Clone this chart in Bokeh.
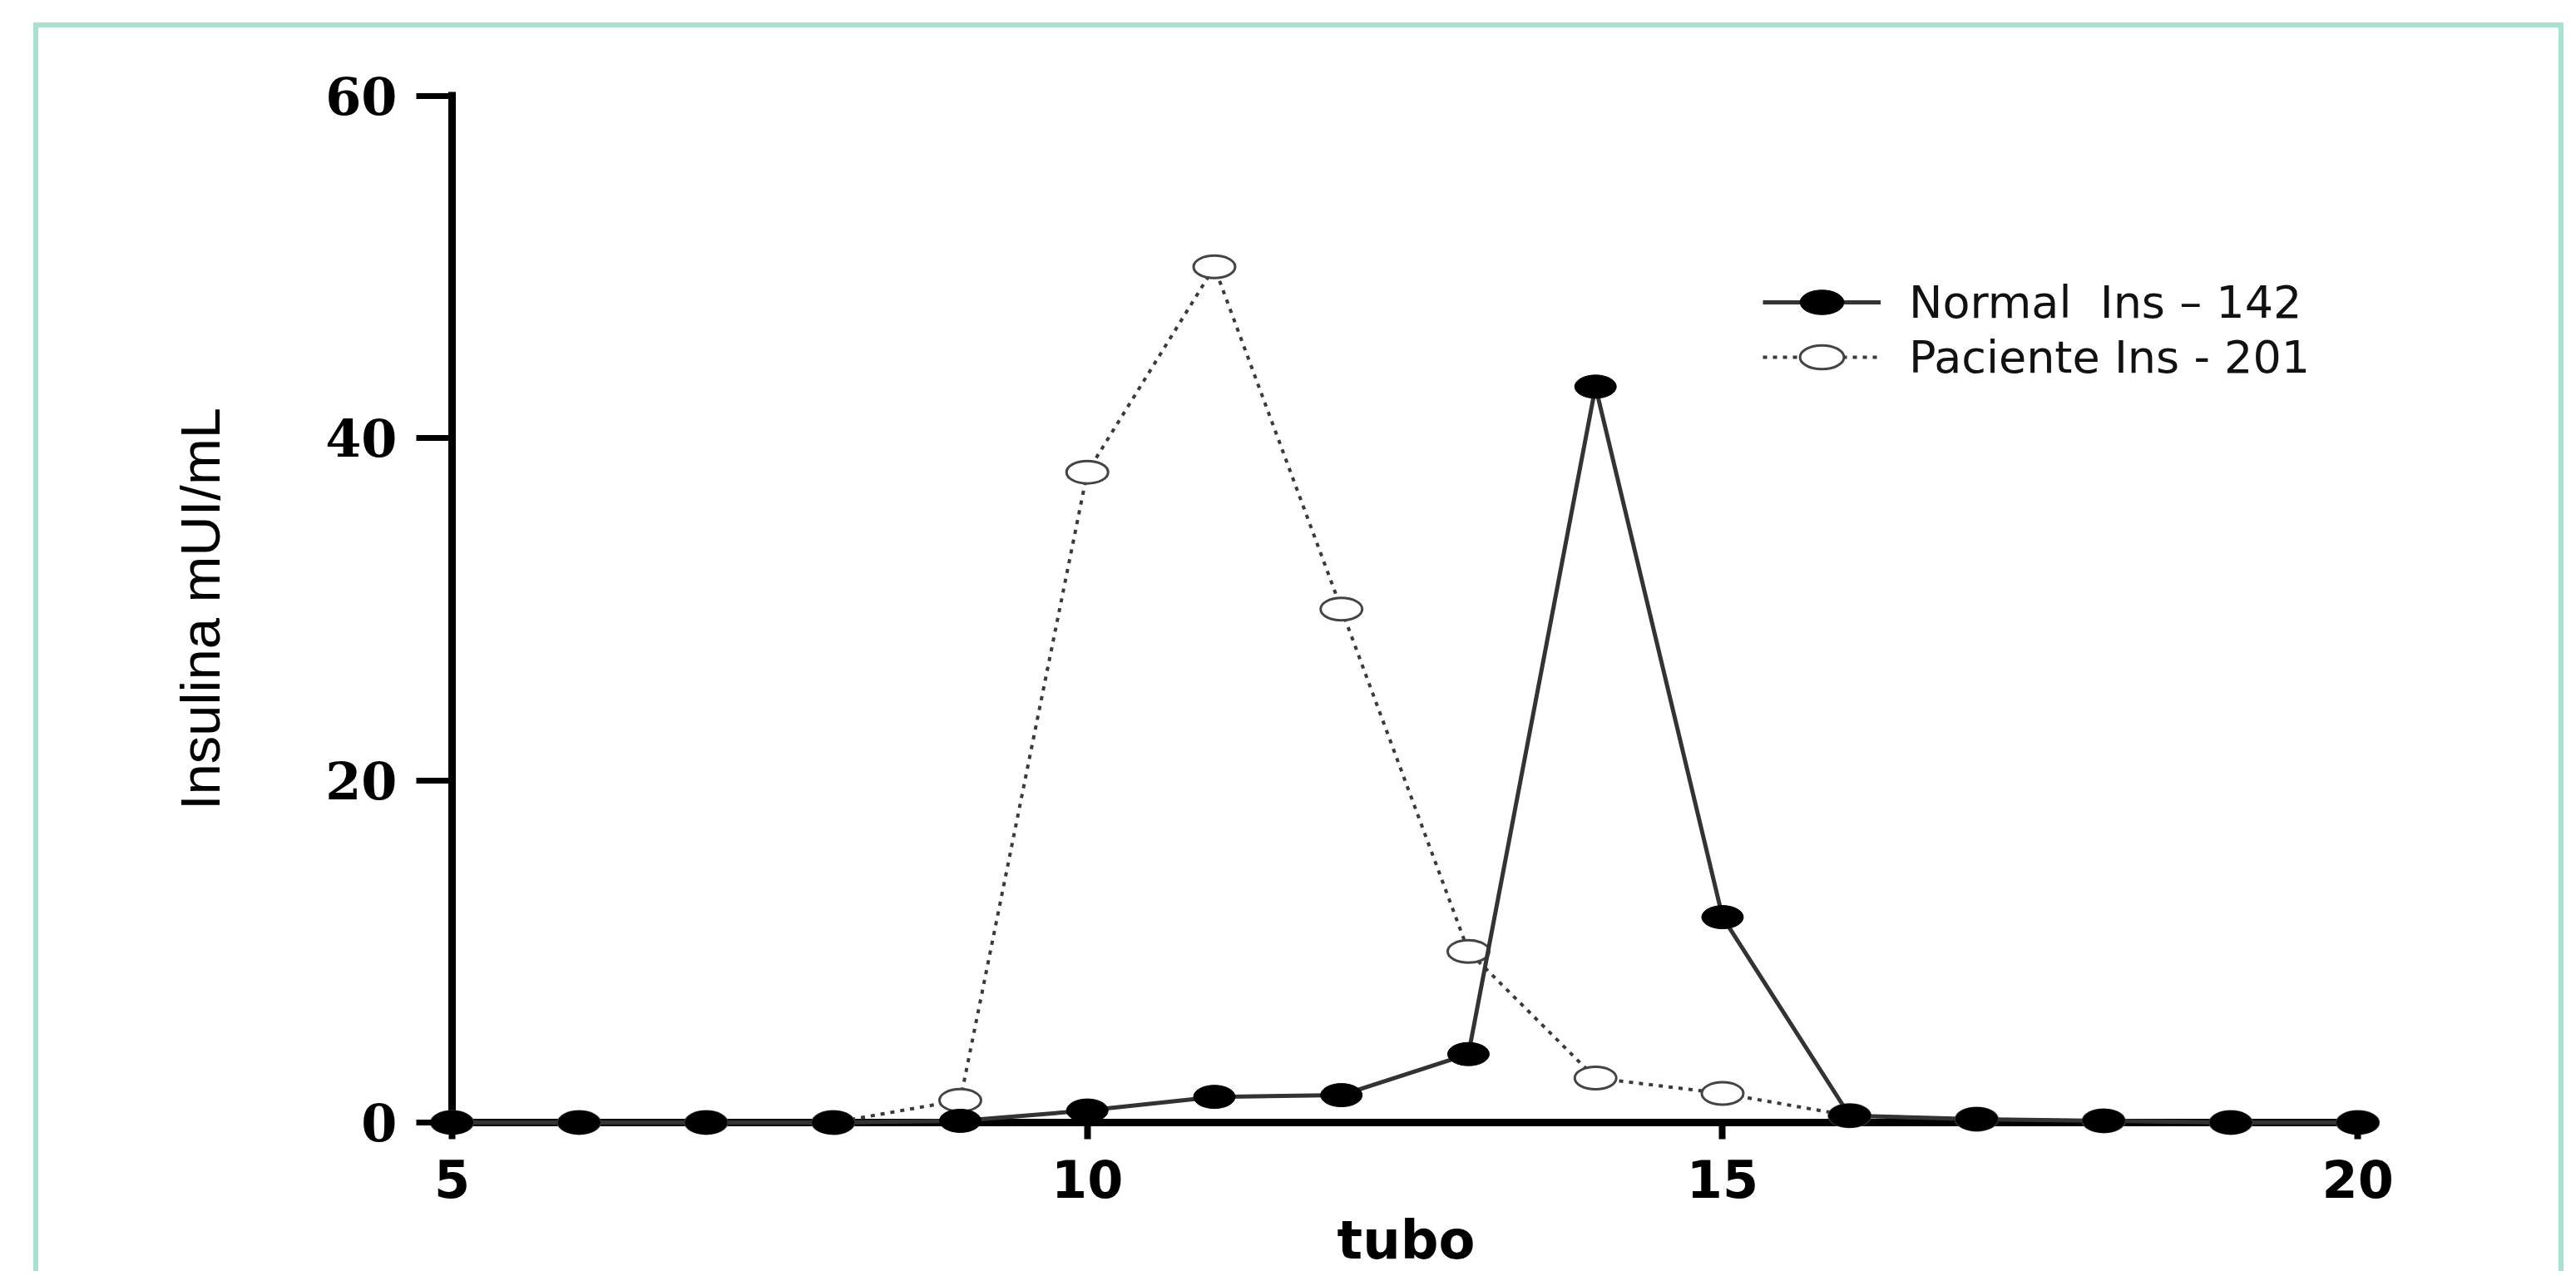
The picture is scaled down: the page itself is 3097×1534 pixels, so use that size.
from bokeh.plotting import figure
from bokeh.models import Range1d, FixedTicker, Legend, LegendItem
from bokeh.embed import file_html
from bokeh.resources import INLINE

# ---- data ----
tubes = list(range(5, 21))
normal = [0, 0, 0, 0, 0.1, 0.7, 1.5, 1.6, 4.0, 43, 12, 0.4, 0.2, 0.1, 0, 0]
patient = [0, 0, 0, 0, 1.3, 38, 50, 30, 10, 2.6, 1.7, 0.4, 0.2, 0.1, 0, 0]
x_ticks = [5, 10, 15, 20]
y_ticks = [0, 20, 40, 60]
legend_labels = ["Normal  Ins \u2013 142", "Paciente Ins - 201"]
x_title = "tubo"
y_title = "Insulina mUI/mL"

W, H = 3042, 1501
p = figure(width=W, height=H, output_backend="svg", toolbar_location=None,
           x_range=Range1d(4.7185, 20.3), y_range=Range1d(-0.972, 61),
           min_border_left=454, min_border_right=208,
           min_border_top=61, min_border_bottom=165)
p.margin = (27, 0, 0, 40)
p.styles = {"border-top": "6px solid #A8E2CC",
            "border-left": "6px solid #A8E2CC",
            "border-right": "6px solid #A8E2CC"}
p.background_fill_color = "white"
p.border_fill_color = "white"
p.outline_line_color = None
p.grid.visible = False

# axes: ticks and labels at the frame edge, axis lines drawn at x=5 / y=0
p.xaxis.ticker = FixedTicker(ticks=x_ticks)
p.yaxis.ticker = FixedTicker(ticks=y_ticks)
p.axis.minor_tick_line_color = None
p.axis.axis_line_color = None
p.axis.major_tick_line_color = "black"
p.axis.major_tick_out = 0

p.xaxis.major_tick_line_width = 8
p.xaxis.major_tick_in = 20
p.xaxis.major_label_standoff = 24
p.xaxis.major_label_text_font = "DejaVu Sans"
p.xaxis.major_label_text_font_style = "bold"
p.xaxis.major_label_text_font_size = "62px"
p.xaxis.major_label_text_color = "black"
p.xaxis.axis_label = x_title
p.xaxis.axis_label_text_font = "DejaVu Sans"
p.xaxis.axis_label_text_font_style = "bold"
p.xaxis.axis_label_text_font_size = "64px"
p.xaxis.axis_label_text_color = "black"
p.xaxis.axis_label_standoff = 11

p.yaxis.major_tick_line_width = 7
p.yaxis.major_tick_in = 43
p.yaxis.major_label_standoff = 23
p.yaxis.major_label_text_font = "DejaVu Serif"
p.yaxis.major_label_text_font_style = "bold"
p.yaxis.major_label_text_font_size = "62px"
p.yaxis.major_label_text_color = "black"
p.yaxis.axis_label = y_title
p.yaxis.axis_label_text_font = "Liberation Sans"
p.yaxis.axis_label_text_font_style = "normal"
p.yaxis.axis_label_text_font_size = "67px"
p.yaxis.axis_label_text_color = "black"
p.yaxis.axis_label_standoff = 110

# axis lines crossing at (5, 0), taken from the tick arrays
p.segment(x0=[x_ticks[0]], y0=[y_ticks[0]], x1=[x_ticks[-1]], y1=[y_ticks[0]],
          line_color="black", line_width=9)
p.segment(x0=[x_ticks[0]], y0=[y_ticks[0]], x1=[x_ticks[0]], y1=[y_ticks[-1]],
          line_color="black", line_width=9, line_cap="square")

# series
pl = p.line(tubes, patient, line_color="#3a3a3a", line_width=4, line_dash="5 7")
pe = p.ellipse(tubes, patient, width=50, height=27, width_units="screen",
               height_units="screen", fill_color="white", line_color="#444444",
               line_width=3)
nl = p.line(tubes, normal, line_color="#333333", line_width=5)
ne = p.ellipse(tubes, normal, width=50, height=28, width_units="screen",
               height_units="screen", fill_color="black", line_color="black",
               line_width=1)

legend = Legend(items=[LegendItem(label=legend_labels[0], renderers=[nl, ne]),
                       LegendItem(label=legend_labels[1], renderers=[pl, pe])],
                location=(1619, 907), glyph_width=142, glyph_height=66,
                label_height=66, spacing=0, padding=0, margin=0,
                border_line_color=None, background_fill_alpha=0,
                label_standoff=34, label_text_font="DejaVu Sans",
                label_text_font_size="54px", label_text_color="#111111")
p.add_layout(legend)

open("out.html", "w").write(file_html(p, INLINE))
